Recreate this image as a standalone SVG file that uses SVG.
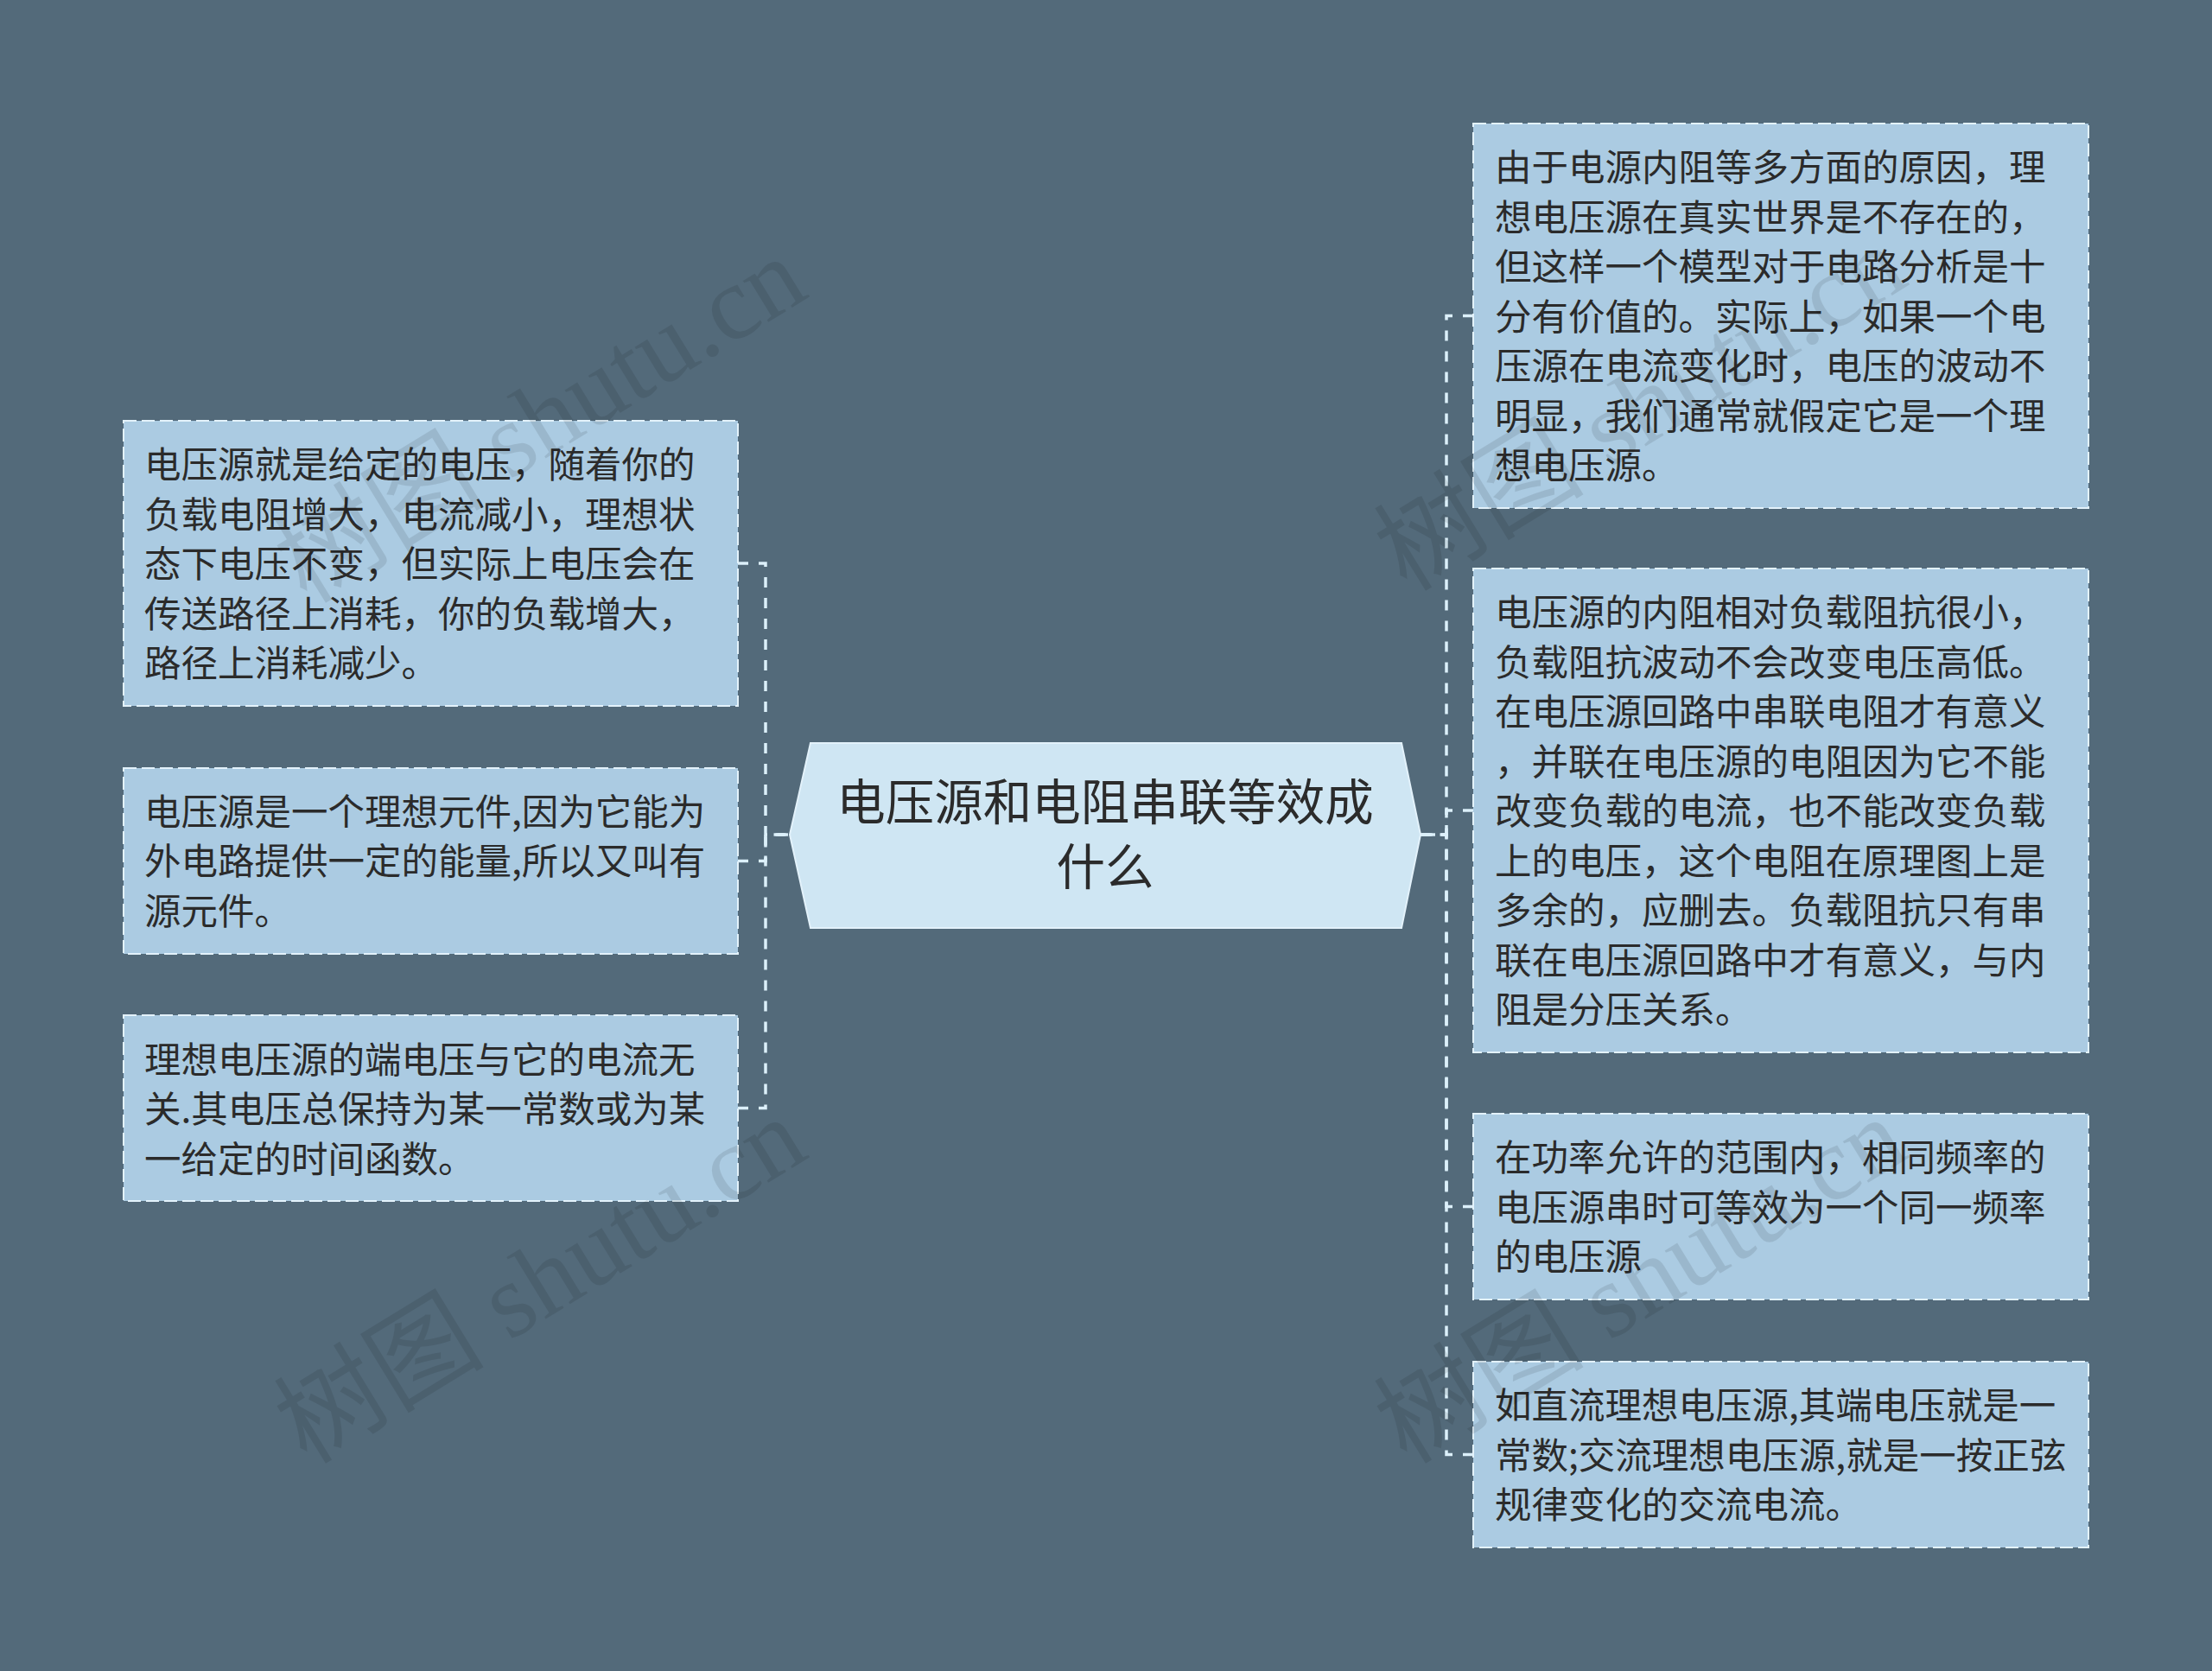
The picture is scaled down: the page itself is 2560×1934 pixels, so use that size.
<svg xmlns="http://www.w3.org/2000/svg" width="2560" height="1934" viewBox="0 0 2560 1934">
<style>
.bg{fill:#536a7a}
.box{fill:#abcbe2;stroke:#e3f2fb;stroke-width:2;stroke-dasharray:15 6}
.root{fill:#cfe6f3;stroke:#e3f2fb;stroke-width:2}
.t{font-family:"Noto Sans CJK SC","Noto Sans",sans-serif;font-size:42.5px;fill:#2b2b2b}
.rt{font-family:"Noto Sans CJK SC","Noto Sans",sans-serif;font-size:56.5px;fill:#2b2b2b;text-anchor:middle}
.link{fill:none;stroke:#dcf0fa;stroke-width:3.5;stroke-dasharray:12 12}
.wm{font-family:"Liberation Serif","Noto Sans CJK SC",serif;font-size:122px;fill:#000;opacity:0.09}
</style>
<rect class="bg" x="0" y="0" width="2560" height="1934"/>
<g id="connectors">
<path class="link" d="M854,652 H886 V966 H914"/>
<path class="link" d="M854,996.5 H886 V966 H914"/>
<path class="link" d="M854,1282.5 H886 V966 H914"/>
<path class="link" d="M1705,365.5 H1674 V966 H1644"/>
<path class="link" d="M1705,938 H1674 V966 H1644"/>
<path class="link" d="M1705,1396.5 H1674 V966 H1644"/>
<path class="link" d="M1705,1683.5 H1674 V966 H1644"/>
</g>
<g id="root">
<polygon class="root" points="938,860 1622,860 1644,966 1622,1074 938,1074 914,966"/>
<text class="rt" x="1279" y="949">电压源和电阻串联等效成</text>
<text class="rt" x="1279" y="1024">什么</text>
</g>
<g id="left1">
<rect class="box" x="143" y="487" width="711" height="330"/>
<text class="t" x="167" y="553">电压源就是给定的电压，随着你的</text>
<text class="t" x="167" y="610.5">负载电阻增大，电流减小，理想状</text>
<text class="t" x="167" y="668">态下电压不变，但实际上电压会在</text>
<text class="t" x="167" y="725.5">传送路径上消耗，你的负载增大，</text>
<text class="t" x="167" y="783">路径上消耗减少。</text>
</g>
<g id="left2">
<rect class="box" x="143" y="889" width="711" height="215"/>
<text class="t" x="167" y="954.5">电压源是一个理想元件,因为它能为</text>
<text class="t" x="167" y="1012">外电路提供一定的能量,所以又叫有</text>
<text class="t" x="167" y="1069.5">源元件。</text>
</g>
<g id="left3">
<rect class="box" x="143" y="1175" width="711" height="215"/>
<text class="t" x="167" y="1241.5">理想电压源的端电压与它的电流无</text>
<text class="t" x="167" y="1299">关.其电压总保持为某一常数或为某</text>
<text class="t" x="167" y="1356.5">一给定的时间函数。</text>
</g>
<g id="right1">
<rect class="box" x="1705" y="143" width="712" height="445"/>
<text class="t" x="1730" y="209">由于电源内阻等多方面的原因，理</text>
<text class="t" x="1730" y="266.5">想电压源在真实世界是不存在的，</text>
<text class="t" x="1730" y="324">但这样一个模型对于电路分析是十</text>
<text class="t" x="1730" y="381.5">分有价值的。实际上，如果一个电</text>
<text class="t" x="1730" y="439">压源在电流变化时，电压的波动不</text>
<text class="t" x="1730" y="496.5">明显，我们通常就假定它是一个理</text>
<text class="t" x="1730" y="554">想电压源。</text>
</g>
<g id="right2">
<rect class="box" x="1705" y="658" width="712" height="560"/>
<text class="t" x="1730" y="724">电压源的内阻相对负载阻抗很小，</text>
<text class="t" x="1730" y="781.5">负载阻抗波动不会改变电压高低。</text>
<text class="t" x="1730" y="839">在电压源回路中串联电阻才有意义</text>
<text class="t" x="1730" y="896.5">，并联在电压源的电阻因为它不能</text>
<text class="t" x="1730" y="954">改变负载的电流，也不能改变负载</text>
<text class="t" x="1730" y="1011.5">上的电压，这个电阻在原理图上是</text>
<text class="t" x="1730" y="1069">多余的，应删去。负载阻抗只有串</text>
<text class="t" x="1730" y="1126.5">联在电压源回路中才有意义，与内</text>
<text class="t" x="1730" y="1184">阻是分压关系。</text>
</g>
<g id="right3">
<rect class="box" x="1705" y="1289" width="712" height="215"/>
<text class="t" x="1730" y="1355">在功率允许的范围内，相同频率的</text>
<text class="t" x="1730" y="1412.5">电压源串时可等效为一个同一频率</text>
<text class="t" x="1730" y="1470">的电压源</text>
</g>
<g id="right4">
<rect class="box" x="1705" y="1576" width="712" height="215"/>
<text class="t" x="1730" y="1642">如直流理想电压源,其端电压就是一</text>
<text class="t" x="1730" y="1699.5">常数;交流理想电压源,就是一按正弦</text>
<text class="t" x="1730" y="1757">规律变化的交流电流。</text>
</g>
<g id="watermarks">
<text class="wm" transform="translate(355,700) rotate(-31.5)">树图 shutu.cn</text>
<text class="wm" transform="translate(355,1696) rotate(-31.5)">树图 shutu.cn</text>
<text class="wm" transform="translate(1628,686) rotate(-31.5)">树图 shutu.cn</text>
<text class="wm" transform="translate(1628,1696) rotate(-31.5)">树图 shutu.cn</text>
</g>
</svg>
